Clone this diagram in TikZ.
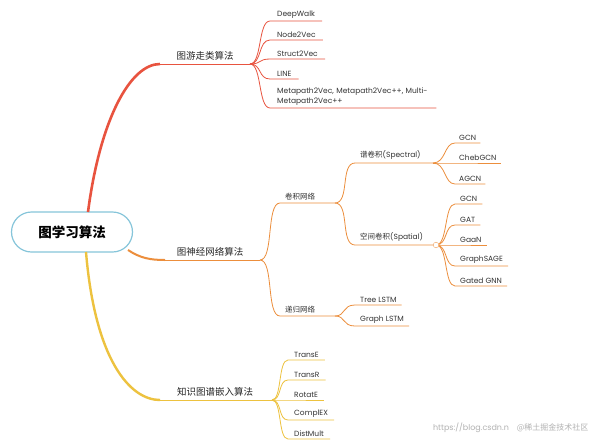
\documentclass[tikz,border=0pt]{standalone}
\usepackage{fontspec}
\setmainfont{Poppins}
\newfontfamily\cjk{Noto Sans CJK SC}
\begin{document}
\begin{tikzpicture}[x=1pt,y=-1pt,
  leaf/.style={anchor=south west,inner xsep=3pt,inner ysep=2.5pt,font=\fontsize{7.5}{10}\selectfont,text=black!80},
  mid/.style={anchor=south west,inner xsep=5pt,inner ysep=3pt,font=\cjk\fontsize{7.5}{9}\selectfont,text=black!80},
  lvl/.style={anchor=south,inner ysep=4pt,font=\cjk\fontsize{9.5}{11}\selectfont,text=black!85},
  red/.style={draw=cR,line width=0.8pt},
  ora/.style={draw=cO,line width=0.8pt},
  yel/.style={draw=cY,line width=0.8pt}]
\definecolor{cR}{HTML}{E8533F}
\definecolor{cO}{HTML}{EC8E3C}
\definecolor{cY}{HTML}{EDC23F}
\definecolor{cB}{HTML}{86C5DA}
\useasboundingbox[fill=white] (0,0) rectangle (602,445);
% root
\node[draw=cB,line width=1.2pt,rounded corners=20pt,minimum width=121pt,minimum height=40pt,fill=white,font=\cjk\bfseries\fontsize{13.5}{16}\selectfont] (root) at (72,232) {图学习算法};
\coordinate (r1) at (88,212);
\coordinate (r2) at (128,250);
\coordinate (r3) at (86,252);
% level 1
\coordinate (j1) at (250,64);
\coordinate (j2) at (260,260);
\coordinate (j3) at (272,400);
\node[lvl] (b1) at (205,64) {图游走类算法};
\node[lvl] (b2) at (210,260) {图神经网络算法};
\node[lvl] (b3) at (215,400) {知识图谱嵌入算法};
\draw[cR,line width=2.6pt] (r1) .. controls (100,120) and (130,64) .. (160,64);
\draw[cR,line width=0.9pt] (160,64) -- (j1);
\draw[cO,line width=2pt] (r2) .. controls (140,258) and (150,260) .. (165,260);
\draw[cO,line width=0.9pt] (165,260) -- (j2);
\draw[cY,line width=2.4pt] (r3) .. controls (95,360) and (130,400) .. (160,400);
\draw[cY,line width=0.9pt] (160,400) -- (j3);
% branch 1 leaves
\foreach \n/\y/\t in {a1/21/DeepWalk,a2/40/Node2Vec,a3/59/Struct2Vec,a4/79/LINE}{
  \node[leaf,inner xsep=7pt] (\n) at (270,\y) {\t};
  \draw[red] (j1) .. controls (262,64) and (258,\y) .. (\n.south west) -- (\n.south east);
}
\node[leaf,inner xsep=7pt,text width=160pt,align=left] (a5) at (270,108) {Metapath2Vec, Metapath2Vec++, Multi-\\Metapath2Vec++};
\draw[red] (j1) .. controls (262,64) and (258,108) .. (a5.south west) -- ([xshift=-8pt]a5.south east);
% branch 2
\coordinate (k1) at (335,203);
\coordinate (k2) at (335,316);
\node[mid] (c1) at (280,203) {卷积网络};
\node[mid] (c2) at (280,316) {递归网络};
\draw[ora] (j2) .. controls (274,260) and (266,203) .. (280,203) -- (k1);
\draw[ora] (j2) .. controls (274,260) and (266,316) .. (280,316) -- (k2);
\coordinate (s1) at (433,163);
\coordinate (s2) at (436,245);
\node[mid,font=\fontsize{7.5}{9}\selectfont] (d1) at (355,163) {{\cjk 谱卷积}(Spectral)};
\node[mid,font=\fontsize{7.5}{9}\selectfont] (d2) at (355,245) {{\cjk 空间卷积}(Spatial)};
\draw[ora] (k1) .. controls (350,203) and (340,163) .. (355,163) -- (s1);
\draw[ora] (k1) .. controls (350,203) and (340,245) .. (355,245) -- (s2);
\foreach \n/\y/\t in {e1/143/GCN,e2/163/ChebGCN,e3/184/AGCN}{
  \node[leaf,inner xsep=4pt] (\n) at (455,\y) {\t};
  \draw[ora] (s1) .. controls (446,163) and (444,\y) .. (\n.south west) -- (\n.south east);
}
\foreach \n/\y/\t in {f1/204/GCN,f2/225/GAT,f3/245/GaaN,f4/266/GraphSAGE,f5/286/Gated GNN}{
  \node[leaf,inner xsep=5pt] (\n) at (455,\y) {\t};
  \draw[ora] (s2) .. controls (448,245) and (444,\y) .. (\n.south west) -- (\n.south east);
}
\draw[cO!70,fill=white,line width=0.5pt] (s2) circle (2.8pt);
\foreach \n/\y/\t in {g1/305/Tree LSTM,g2/326/Graph LSTM}{
  \node[leaf,inner xsep=5pt] (\n) at (355,\y) {\t};
  \draw[ora] (k2) .. controls (346,316) and (342,\y) .. (\n.south west) -- (\n.south east);
}
% branch 3 leaves
\foreach \n/\y/\t in {h1/360/TransE,h2/380/TransR,h3/400/RotatE,h4/420/ComplEX,h5/439/DistMult}{
  \node[leaf,inner xsep=6pt] (\n) at (288,\y) {\t};
  \draw[yel] (j3) .. controls (282,400) and (278,\y) .. (\n.south west) -- (\n.south east);
}
% watermark
\node[anchor=east,text=black!30,font=\fontsize{8}{9}\selectfont] (wm) at (592,428) {https://blog.csdn.n\quad{\cjk @稀土掘金技术社区}};
\end{tikzpicture}
\end{document}
